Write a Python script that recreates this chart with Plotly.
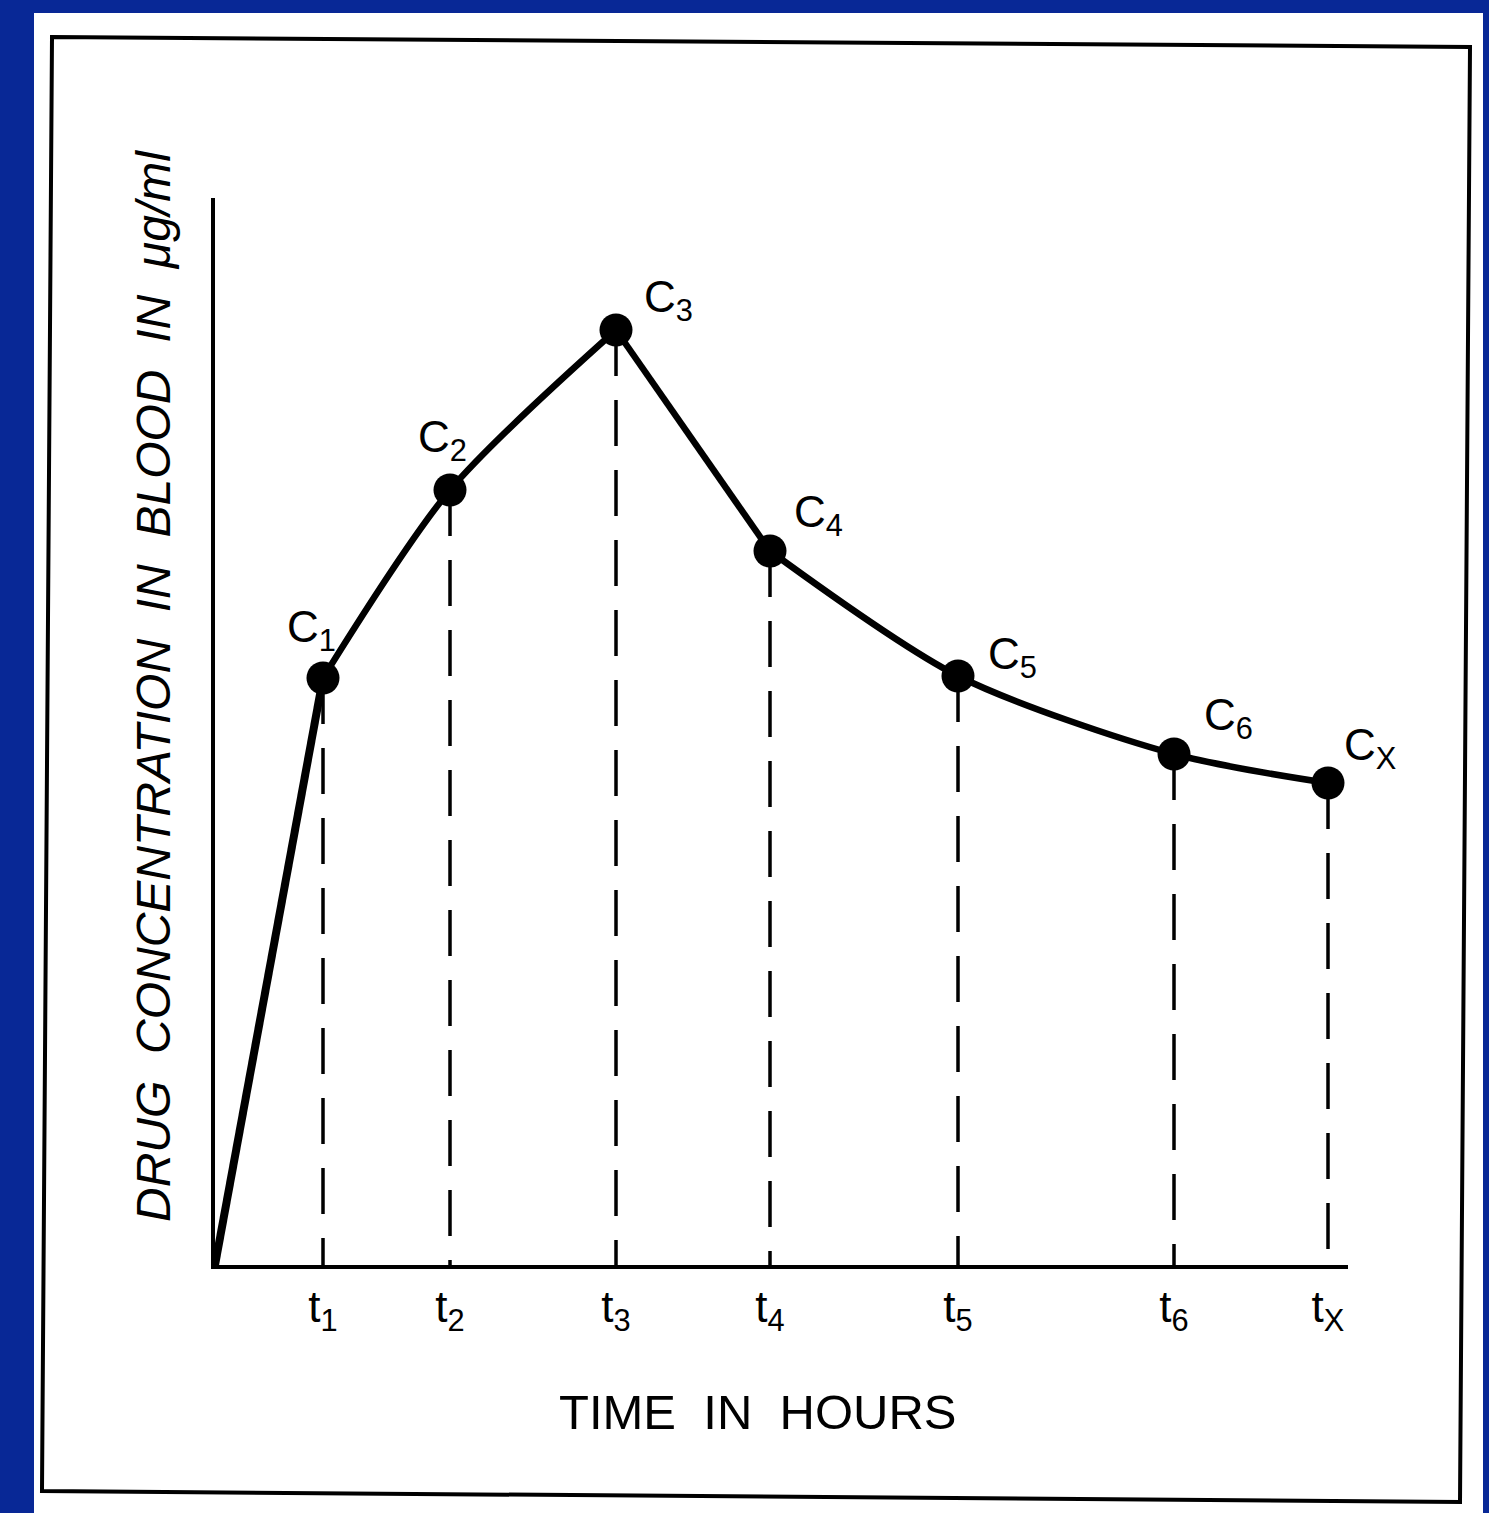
import plotly.graph_objects as go

# ---- data ----
time_names = ["t<sub>1</sub>", "t<sub>2</sub>", "t<sub>3</sub>", "t<sub>4</sub>",
              "t<sub>5</sub>", "t<sub>6</sub>", "t<sub>X</sub>"]
conc_names = ["C<sub>1</sub>", "C<sub>2</sub>", "C<sub>3</sub>", "C<sub>4</sub>",
              "C<sub>5</sub>", "C<sub>6</sub>", "C<sub>X</sub>"]
times = [1.08, 2.35, 4.01, 5.55, 7.43, 9.59, 11.13]
conc = [5.87, 7.75, 9.35, 7.14, 5.89, 5.11, 4.82]
start_time = [0.0]
start_conc = [0.0]

# label offsets in pixels (styling)
label_dx = [-12, -8, 52, 48, 54, 54, 42]
label_dy = [48, 50, 30, 36, 19, 36, 35]

W, H = 1489, 1513
L, R, T, B = 215, 1348, 198, 1265  # plot area in pixels
BLUE = "#082896"


def px(x):
    return (x - L) / (R - L)


def py(y):
    return (B - y) / (B - T)


FONT = "Liberation Sans, Arial, sans-serif"

fig = go.Figure()

# dashed drop lines
for t, c in zip(times, conc):
    fig.add_trace(go.Scatter(x=[t, t], y=[c, 0], mode="lines",
                             line=dict(color="black", width=3.5, dash="46px,24px"),
                             hoverinfo="skip", showlegend=False, cliponaxis=False))

# curve segments
fig.add_trace(go.Scatter(x=start_time + times[:1], y=start_conc + conc[:1], mode="lines",
                         line=dict(color="black", width=8), showlegend=False, cliponaxis=False))
fig.add_trace(go.Scatter(x=times[0:3], y=conc[0:3], mode="lines",
                         line=dict(color="black", width=6.5, shape="spline", smoothing=0.8),
                         showlegend=False, cliponaxis=False))
fig.add_trace(go.Scatter(x=times[2:4], y=conc[2:4], mode="lines",
                         line=dict(color="black", width=6.5), showlegend=False, cliponaxis=False))
fig.add_trace(go.Scatter(x=times[3:], y=conc[3:], mode="lines",
                         line=dict(color="black", width=6.5, shape="spline", smoothing=0.8),
                         showlegend=False, cliponaxis=False))

# points
fig.add_trace(go.Scatter(x=times, y=conc, mode="markers",
                         marker=dict(color="black", size=33),
                         showlegend=False, cliponaxis=False))

annotations = []
for t, c, name, dx, dy in zip(times, conc, conc_names, label_dx, label_dy):
    annotations.append(dict(x=t, y=c, xref="x", yref="y", text=name, showarrow=False,
                            xshift=dx, yshift=dy, xanchor="center", yanchor="middle",
                            font=dict(family=FONT, size=44, color="black")))

annotations.append(dict(x=px(757), y=py(1412), xref="paper", yref="paper",
                        xanchor="center", yanchor="middle",
                        text="TIME&nbsp;&nbsp;IN&nbsp;&nbsp;HOURS", showarrow=False,
                        font=dict(family=FONT, size=49, color="black")))
annotations.append(dict(x=px(153), y=py(686), xref="paper", yref="paper",
                        xanchor="center", yanchor="middle",
                        text="DRUG&nbsp;&nbsp;CONCENTRATION&nbsp;&nbsp;IN&nbsp;&nbsp;BLOOD&nbsp;&nbsp;IN&nbsp;&nbsp;μg/ml",
                        showarrow=False, textangle=-90,
                        font=dict(family=FONT, size=48, color="black", style="italic")))

shapes = [
    # white sheet
    dict(type="rect", xref="paper", yref="paper", x0=px(34), x1=px(1483), y0=py(13), y1=py(1513),
         fillcolor="white", line=dict(width=0), layer="below"),
    # hand-drawn frame
    dict(type="path", xref="paper", yref="paper",
         path=f"M {px(52)},{py(37)} L {px(1470)},{py(47)} L {px(1460)},{py(1502)} L {px(42)},{py(1491)} Z",
         line=dict(color="black", width=4), layer="below"),
]

fig.update_layout(
    width=W, height=H,
    margin=dict(l=L, r=W - R, t=T, b=H - B, pad=0),
    paper_bgcolor=BLUE,
    plot_bgcolor="rgba(0,0,0,0)",
    showlegend=False,
    annotations=annotations,
    shapes=shapes,
    xaxis=dict(range=[0, (R - L) / 100], showgrid=False, zeroline=False,
               showline=True, linecolor="black", linewidth=4,
               tickmode="array", tickvals=times, ticktext=time_names, ticks="",
               ticklabelstandoff=0,
               tickfont=dict(family=FONT, size=44, color="black")),
    yaxis=dict(range=[0, (B - T) / 100], showgrid=False, zeroline=False,
               showline=True, linecolor="black", linewidth=4,
               showticklabels=False, ticks=""),
)

fig.write_html("out.html", config={"displayModeBar": False},
               post_script="document.body.style.margin='0';document.body.style.overflow='hidden';"
                           "document.body.style.background='" + BLUE + "';")
